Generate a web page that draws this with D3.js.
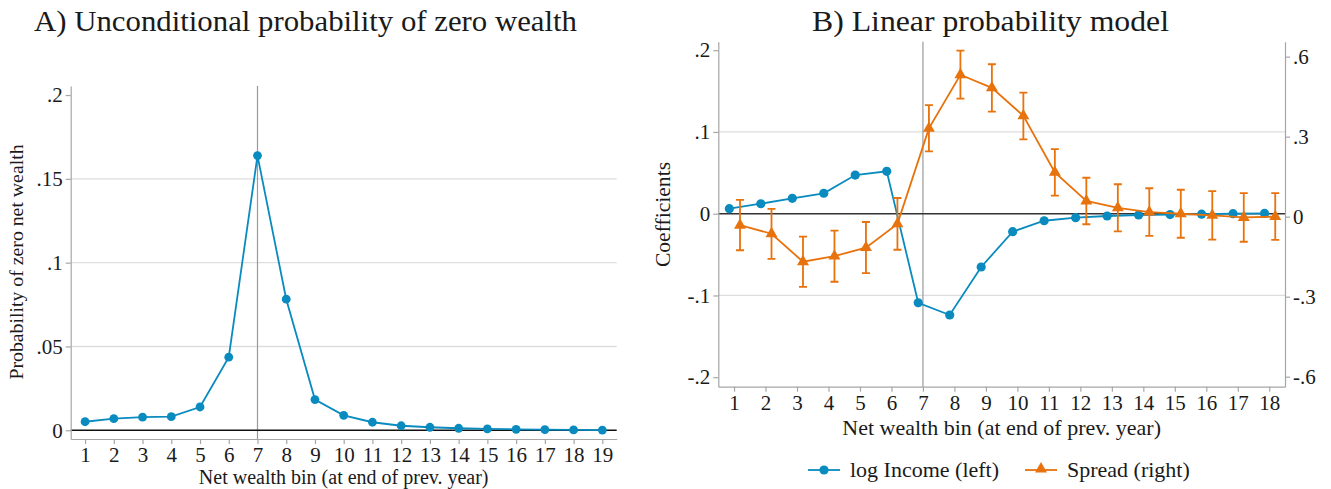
<!DOCTYPE html>
<html>
<head>
<meta charset="utf-8">
<script src="https://cdn.jsdelivr.net/npm/d3@7"></script>
<style>
  body { margin: 0; background: #fff; }
  svg text { font-family: "Liberation Serif", "DejaVu Serif", serif !important; fill: #1a1a1a; }
  .axis path, .axis line { stroke: #a6a6a6; stroke-width: 1.2; }
</style>
</head>
<body>
<div id="chart"></div>
<script>
// panel A
const binsA = d3.range(1, 20)
const probZero = [0.0051, 0.0069, 0.0078, 0.0081, 0.0139, 0.0436, 0.1639, 0.0782, 0.0183, 0.0089,
  0.0048, 0.0027, 0.0018, 0.0012, 0.0008, 0.0006, 0.0004, 0.0002, 0.0001]
const ticksA = [0, 0.05, 0.1, 0.15, 0.2]

// panel B
const binsB = d3.range(1, 19)
const logIncome = [0.0061, 0.0122, 0.0188, 0.025, 0.0473, 0.0519, -0.1089, -0.1239, -0.0652, -0.022,
  -0.0086, -0.0049, -0.0028, -0.0016, -0.001, -0.0006, 0, 0.0003]
const spread = [-0.032, -0.064, -0.169, -0.148, -0.116, -0.027, 0.331, 0.532, 0.483, 0.378,
  0.166, 0.059, 0.033, 0.017, 0.011, 0.005, -0.003, 0.0]
const spreadLo = [-0.126, -0.158, -0.263, -0.244, -0.212, -0.124, 0.245, 0.4425, 0.394, 0.29,
  0.079, -0.0285, -0.055, -0.072, -0.079, -0.086, -0.094, -0.087]
const spreadHi = [0.063, 0.029, -0.075, -0.0525, -0.02, 0.07, 0.418, 0.6225, 0.5715, 0.465,
  0.253, 0.146, 0.1215, 0.1065, 0.101, 0.096, 0.088, 0.088]
const ticksBLeft = [-0.2, -0.1, 0, 0.1, 0.2]
const ticksBRight = [-0.6, -0.3, 0, 0.3, 0.6]

const blue = '#0a8bbf'
const orange = '#e8720c'
const serif = '"Liberation Serif", "DejaVu Serif", serif'

const svg = d3
  .select('#chart')
  .append('svg')
  .attr('width', 1331)
  .attr('height', 489)
  .attr('font-family', serif)

svg.append('rect').attr('width', 1331).attr('height', 489).attr('fill', '#fff')

const fmt = d => {
  if (d === 0) return '0'
  return String(d).replace(/^0\./, '.').replace(/^-0\./, '-.')
}

// ---------- Panel A ----------
const xA = d3.scaleLinear().domain([0.5, 19.5]).range([70.7, 616.7])
const yA = d3.scaleLinear().domain([-0.0052, 0.2054]).range([439, 86])

const gA = svg.append('g')

gA.selectAll('.grid')
  .data([0.05, 0.1, 0.15])
  .enter()
  .append('line')
  .attr('x1', xA.range()[0])
  .attr('x2', xA.range()[1])
  .attr('y1', d => yA(d))
  .attr('y2', d => yA(d))
  .attr('stroke', '#dedede')
  .attr('stroke-width', 1.3)

gA.append('line')
  .attr('x1', xA(7)).attr('x2', xA(7))
  .attr('y1', yA.range()[1]).attr('y2', yA.range()[0])
  .attr('stroke', '#9a9a9a').attr('stroke-width', 1.2)

gA.append('line')
  .attr('x1', xA.range()[0]).attr('x2', xA.range()[1])
  .attr('y1', yA(0)).attr('y2', yA(0))
  .attr('stroke', '#111').attr('stroke-width', 1.5)

gA.append('g')
  .attr('class', 'axis')
  .attr('transform', `translate(${xA.range()[0]},0)`)
  .call(d3.axisLeft(yA).tickValues(ticksA).tickFormat(fmt).tickSizeInner(5).tickSizeOuter(0).tickPadding(3))

gA.append('g')
  .attr('class', 'axis')
  .attr('transform', `translate(0,${yA.range()[0]})`)
  .call(d3.axisBottom(xA).tickValues(binsA).tickSizeInner(5).tickSizeOuter(0).tickPadding(3))

gA.selectAll('.axis').attr('font-family', serif).attr('font-size', 21)

const lineA = d3.line().x((d, i) => xA(binsA[i])).y(d => yA(d))

gA.append('path')
  .datum(probZero)
  .attr('d', lineA)
  .attr('fill', 'none')
  .attr('stroke', blue)
  .attr('stroke-width', 1.8)

gA.selectAll('.dot')
  .data(probZero)
  .enter()
  .append('circle')
  .attr('cx', (d, i) => xA(binsA[i]))
  .attr('cy', d => yA(d))
  .attr('r', 4.4)
  .attr('fill', blue)

gA.append('text')
  .attr('x', 34).attr('y', 31)
  .attr('font-size', 29)
  .attr('textLength', 543).attr('lengthAdjust', 'spacingAndGlyphs')
  .text('A) Unconditional probability of zero wealth')

gA.append('text')
  .attr('transform', 'translate(23,262) rotate(-90)')
  .attr('text-anchor', 'middle')
  .attr('font-size', 19.8)
  .text('Probability of zero net wealth')

gA.append('text')
  .attr('x', (xA.range()[0] + xA.range()[1]) / 2)
  .attr('y', 484)
  .attr('text-anchor', 'middle')
  .attr('font-size', 20)
  .text('Net wealth bin (at end of prev. year)')

// ---------- Panel B ----------
const xB = d3.scaleLinear().domain([0.5, 18.5]).range([718.3, 1285])
const yB = d3.scaleLinear().domain([-0.2116, 0.2104]).range([386.7, 41.7])
const yB2 = d3.scaleLinear().domain([-0.6375, 0.656]).range([386.7, 41.7])
const offBlue = -0.15
const offOrange = 0.19

const gB = svg.append('g')

gB.selectAll('.grid')
  .data([-0.1, 0.1])
  .enter()
  .append('line')
  .attr('x1', xB.range()[0])
  .attr('x2', xB.range()[1])
  .attr('y1', d => yB(d))
  .attr('y2', d => yB(d))
  .attr('stroke', '#dedede')
  .attr('stroke-width', 1.3)

gB.append('line')
  .attr('x1', xB(7)).attr('x2', xB(7))
  .attr('y1', yB.range()[1]).attr('y2', yB.range()[0])
  .attr('stroke', '#9a9a9a').attr('stroke-width', 1.2)

gB.append('line')
  .attr('x1', xB.range()[0]).attr('x2', xB.range()[1])
  .attr('y1', yB(0)).attr('y2', yB(0))
  .attr('stroke', '#333').attr('stroke-width', 1.5)

gB.append('g')
  .attr('class', 'axis')
  .attr('transform', `translate(${xB.range()[0]},0)`)
  .call(d3.axisLeft(yB).tickValues(ticksBLeft).tickFormat(fmt).tickSizeInner(5).tickSizeOuter(0).tickPadding(3))

gB.append('g')
  .attr('class', 'axis')
  .attr('transform', `translate(${xB.range()[1]},0)`)
  .call(d3.axisRight(yB2).tickValues(ticksBRight).tickFormat(fmt).tickSizeInner(5).tickSizeOuter(0).tickPadding(3))

gB.append('g')
  .attr('class', 'axis')
  .attr('transform', `translate(0,${yB.range()[0]})`)
  .call(d3.axisBottom(xB).tickValues(binsB).tickSizeInner(5).tickSizeOuter(0).tickPadding(3))

gB.selectAll('.axis').attr('font-family', serif).attr('font-size', 21)

// log income
const lineBlue = d3.line().x((d, i) => xB(binsB[i] + offBlue)).y(d => yB(d))

gB.append('path')
  .datum(logIncome)
  .attr('d', lineBlue)
  .attr('fill', 'none')
  .attr('stroke', blue)
  .attr('stroke-width', 1.8)

gB.selectAll('.dot')
  .data(logIncome)
  .enter()
  .append('circle')
  .attr('cx', (d, i) => xB(binsB[i] + offBlue))
  .attr('cy', d => yB(d))
  .attr('r', 4.6)
  .attr('fill', blue)

// spread with CIs
gB.selectAll('.ci')
  .data(binsB)
  .enter()
  .append('path')
  .attr('d', (b, i) => {
    const x = xB(b + offOrange)
    const y1 = yB2(spreadLo[i])
    const y2 = yB2(spreadHi[i])
    return `M${x},${y1}V${y2}M${x - 4},${y1}H${x + 4}M${x - 4},${y2}H${x + 4}`
  })
  .attr('fill', 'none')
  .attr('stroke', orange)
  .attr('stroke-width', 1.8)

const lineOrange = d3.line().x((d, i) => xB(binsB[i] + offOrange)).y(d => yB2(d))

gB.append('path')
  .datum(spread)
  .attr('d', lineOrange)
  .attr('fill', 'none')
  .attr('stroke', orange)
  .attr('stroke-width', 1.8)

const tri = d3.symbol().type(d3.symbolTriangle).size(62)

gB.selectAll('.tri')
  .data(spread)
  .enter()
  .append('path')
  .attr('d', tri)
  .attr('transform', (d, i) => `translate(${xB(binsB[i] + offOrange)},${yB2(d)})`)
  .attr('fill', orange)

gB.append('text')
  .attr('x', 812).attr('y', 31)
  .attr('font-size', 29)
  .attr('textLength', 357).attr('lengthAdjust', 'spacingAndGlyphs')
  .text('B) Linear probability model')

gB.append('text')
  .attr('transform', 'translate(670,214.5) rotate(-90)')
  .attr('text-anchor', 'middle')
  .attr('font-size', 21.6)
  .text('Coefficients')

gB.append('text')
  .attr('x', (xB.range()[0] + xB.range()[1]) / 2)
  .attr('y', 435)
  .attr('text-anchor', 'middle')
  .attr('font-size', 22)
  .text('Net wealth bin (at end of prev. year)')

// legend
const legend = gB.append('g')

legend.append('line')
  .attr('x1', 808).attr('x2', 840).attr('y1', 470).attr('y2', 470)
  .attr('stroke', blue).attr('stroke-width', 1.8)
legend.append('circle')
  .attr('cx', 824).attr('cy', 470).attr('r', 4.6).attr('fill', blue)
legend.append('text')
  .attr('x', 850).attr('y', 477)
  .attr('font-size', 22)
  .text('log Income (left)')

legend.append('line')
  .attr('x1', 1025).attr('x2', 1057).attr('y1', 470).attr('y2', 470)
  .attr('stroke', orange).attr('stroke-width', 1.8)
legend.append('path')
  .attr('d', tri)
  .attr('transform', 'translate(1041,469)')
  .attr('fill', orange)
legend.append('text')
  .attr('x', 1067).attr('y', 477)
  .attr('font-size', 22)
  .text('Spread (right)')
</script>
</body>
</html>
